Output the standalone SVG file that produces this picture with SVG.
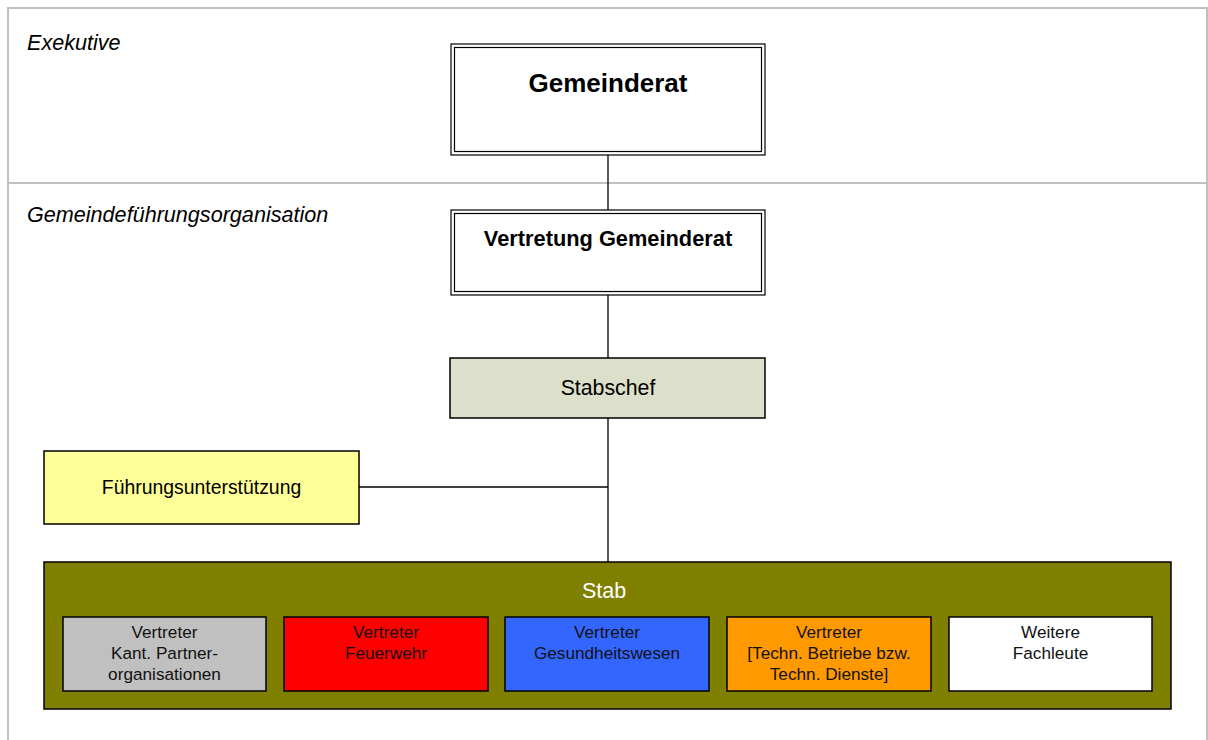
<svg xmlns="http://www.w3.org/2000/svg" width="1208" height="740" viewBox="0 0 1208 740">
<style>
text{font-family:"Liberation Sans",Arial,sans-serif;fill:#000}
.lane{fill:none;stroke:#c0c0c0;stroke-width:2}
.box{stroke:#000;stroke-width:1.5}
.dbl{fill:none;stroke:#000;stroke-width:1.2}
.con{stroke:#000;stroke-width:1.3;fill:none}
.lbl{font-size:17.2px;text-anchor:middle;fill:#111}
.title{font-style:italic;font-size:21.6px}
</style>
<rect width="1208" height="740" fill="#fff"/>
<g id="lanes">
<path class="lane" d="M8,740 V8 H1207 V740"/>
<line class="lane" x1="8" y1="183" x2="1207" y2="183"/>
<text class="title" x="27" y="50">Exekutive</text>
<text class="title" x="27" y="222">Gemeindeführungsorganisation</text>
</g>
<g id="connectors">
<line class="con" x1="608" y1="155" x2="608" y2="210"/>
<line class="con" x1="608" y1="295" x2="608" y2="358"/>
<line class="con" x1="608" y1="418" x2="608" y2="562"/>
<line class="con" x1="359" y1="487" x2="608" y2="487"/>
</g>
<g id="gemeinderat">
<rect x="451" y="44" width="314" height="111" fill="#fff" class="dbl"/>
<rect x="454.5" y="47.5" width="307" height="104" class="dbl"/>
<text x="608" y="92" font-size="26" font-weight="bold" text-anchor="middle">Gemeinderat</text>
</g>
<g id="vertretung">
<rect x="451" y="210" width="314" height="85" fill="#fff" class="dbl"/>
<rect x="454.5" y="213.5" width="307" height="78" class="dbl"/>
<text x="608" y="246" font-size="21.8" font-weight="bold" text-anchor="middle">Vertretung Gemeinderat</text>
</g>
<g id="stabschef">
<rect x="450" y="358" width="315" height="60" fill="#dcdfc9" class="box"/>
<text x="608" y="395" font-size="21.3" text-anchor="middle">Stabschef</text>
</g>
<g id="fuehrungsunterstuetzung">
<rect x="44" y="451" width="315" height="73" fill="#ffff99" class="box"/>
<text x="201.5" y="494" font-size="19.4" text-anchor="middle">Führungsunterstützung</text>
</g>
<g id="stab">
<rect x="44" y="562" width="1127" height="147" fill="#808000" class="box"/>
<text x="604" y="598" font-size="21.5" text-anchor="middle" style="fill:#fff">Stab</text>
</g>
<g id="partner">
<rect x="63" y="617" width="203" height="74" fill="#c0c0c0" class="box"/>
<text class="lbl" x="164.5" y="638">Vertreter</text>
<text class="lbl" x="164.5" y="659">Kant. Partner-</text>
<text class="lbl" x="164.5" y="680">organisationen</text>
</g>
<g id="feuerwehr">
<rect x="284" y="617" width="204" height="74" fill="#ff0000" class="box"/>
<text class="lbl" x="386" y="638">Vertreter</text>
<text class="lbl" x="386" y="659">Feuerwehr</text>
</g>
<g id="gesundheit">
<rect x="505" y="617" width="204" height="74" fill="#3366ff" class="box"/>
<text class="lbl" x="607" y="638">Vertreter</text>
<text class="lbl" x="607" y="659">Gesundheitswesen</text>
</g>
<g id="technik">
<rect x="727" y="617" width="204" height="74" fill="#ff9900" class="box"/>
<text class="lbl" x="829" y="638">Vertreter</text>
<text class="lbl" x="829" y="659">[Techn. Betriebe bzw.</text>
<text class="lbl" x="829" y="680">Techn. Dienste]</text>
</g>
<g id="fachleute">
<rect x="949" y="617" width="203" height="74" fill="#fff" class="box"/>
<text class="lbl" x="1050.5" y="638">Weitere</text>
<text class="lbl" x="1050.5" y="659">Fachleute</text>
</g>
</svg>
